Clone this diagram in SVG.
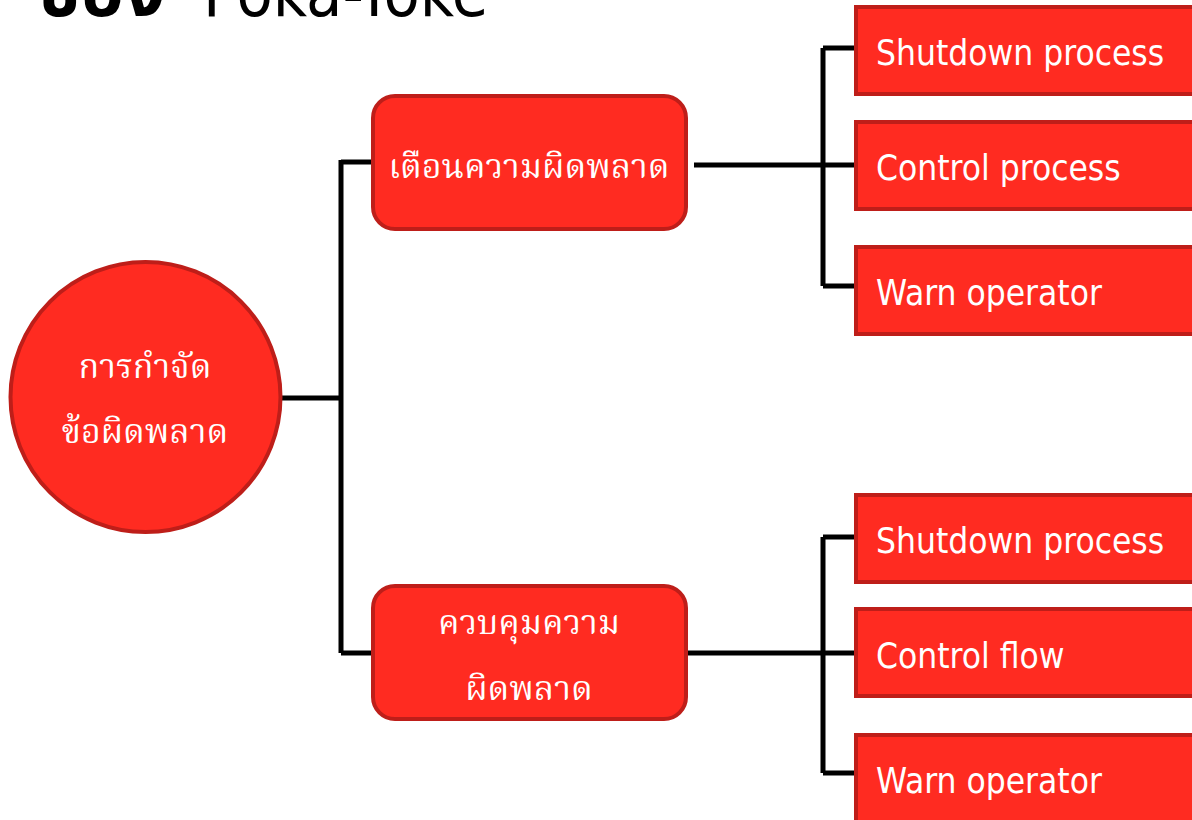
<svg xmlns="http://www.w3.org/2000/svg" width="1192" height="820" viewBox="0 0 1192 820">
<style>
.node{fill:#FF2B21;stroke:#BE1E19;stroke-width:4}
.th{font-family:"Noto Serif Thai","Noto Sans Thai","Garuda","Loma","Norasi","DejaVu Sans",serif;font-size:34px;fill:#fff;text-anchor:middle}
.en{font-family:"DejaVu Sans Condensed","DejaVu Sans",sans-serif;font-stretch:condensed;font-size:35px;fill:#fff}
.conn{fill:none;stroke:#000;stroke-width:5}
</style>
<rect width="1192" height="820" fill="#fff"/>
<g id="title">
<text x="165" y="16" text-anchor="end" font-family="'Noto Sans Thai','Garuda','Loma','DejaVu Sans',sans-serif" font-weight="bold" font-size="72" fill="#000">ของ</text>
<text x="203" y="16" font-family="'DejaVu Sans Condensed','DejaVu Sans',sans-serif" font-stretch="condensed" font-size="66" fill="#000">Poka-Yoke</text>
</g>
<g id="connectors">
<path class="conn" d="M281 398H341M341 160V653M341 162H374M341 653H374"/>
<path class="conn" d="M694 165H857M823 48V286M823 48H857M823 286H857"/>
<path class="conn" d="M687 653H857M823 537V773M823 537H857M823 773H857"/>
</g>
<g id="root">
<circle class="node" cx="145.5" cy="397" r="135"/>
<text class="th" x="145" y="378">การกำจัด</text>
<text class="th" x="145" y="443">ข้อผิดพลาด</text>
</g>
<g id="warn">
<rect class="node" x="373" y="96" width="313" height="133" rx="22"/>
<text class="th" x="529" y="178">เตือนความผิดพลาด</text>
</g>
<g id="control">
<rect class="node" x="373" y="586" width="313" height="133" rx="22"/>
<text class="th" x="529" y="634">ควบคุมความ</text>
<text class="th" x="529" y="700">ผิดพลาด</text>
</g>
<g id="w1">
<rect class="node" x="856" y="7" width="350" height="87"/>
<text class="en" x="876" y="65">Shutdown process</text>
</g>
<g id="w2">
<rect class="node" x="856" y="122" width="350" height="87"/>
<text class="en" x="876" y="180">Control process</text>
</g>
<g id="w3">
<rect class="node" x="856" y="247" width="350" height="87"/>
<text class="en" x="876" y="305">Warn operator</text>
</g>
<g id="c1">
<rect class="node" x="856" y="495" width="350" height="87"/>
<text class="en" x="876" y="553">Shutdown process</text>
</g>
<g id="c2">
<rect class="node" x="856" y="609" width="350" height="87"/>
<text class="en" x="876" y="668">Control flow</text>
</g>
<g id="c3">
<rect class="node" x="856" y="735" width="350" height="100"/>
<text class="en" x="876" y="793">Warn operator</text>
</g>
</svg>
